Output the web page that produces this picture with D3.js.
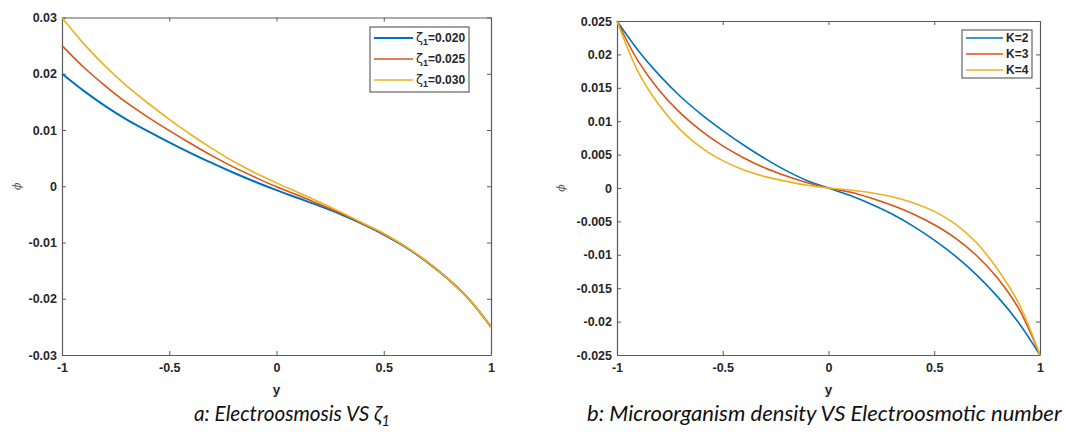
<!DOCTYPE html>
<html>
<head>
<meta charset="utf-8">
<script src="https://cdn.jsdelivr.net/npm/d3@7"></script>
<style>
  html, body { margin: 0; padding: 0; background: #fff; }
  svg { display: block; }
</style>
</head>
<body>
<svg id="chart" width="1066" height="434"></svg>
<script>
// ---------- Data ----------
const yGrid = [-1, -0.9, -0.8, -0.7, -0.6, -0.5, -0.4, -0.3, -0.2, -0.1, 0,
               0.1, 0.2, 0.3, 0.4, 0.5, 0.6, 0.7, 0.8, 0.9, 1];

// Panel a: Electroosmosis vs zeta1
const zetaLabels = ["0.020", "0.025", "0.030"];
const phiZeta020 = [0.0200, 0.0170, 0.0143, 0.0119, 0.0098, 0.0078, 0.0059, 0.0041, 0.0024, 0.0008, -0.0007,
                    -0.0021, -0.0035, -0.0050, -0.0067, -0.0086, -0.0108, -0.0134, -0.0165, -0.0202, -0.0250];
const phiZeta025 = [0.0250, 0.0212, 0.0179, 0.0149, 0.0123, 0.0099, 0.0076, 0.0054, 0.0034, 0.0016, -0.0001,
                    -0.0016, -0.0032, -0.0048, -0.0066, -0.0085, -0.0107, -0.0134, -0.0165, -0.0202, -0.0250];
const phiZeta030 = [0.0300, 0.0254, 0.0214, 0.0179, 0.0148, 0.0119, 0.0092, 0.0067, 0.0044, 0.0024, 0.0006,
                    -0.0011, -0.0028, -0.0046, -0.0065, -0.0084, -0.0107, -0.0133, -0.0165, -0.0202, -0.0250];

// Panel b: Microorganism density vs Electroosmotic number
const kLabels = ["K=2", "K=3", "K=4"];
const phiK2 = [0.0250, 0.0206, 0.0169, 0.0137, 0.0110, 0.0086, 0.0064, 0.0044, 0.0026, 0.0011, 0.0000,
               -0.0011, -0.0024, -0.0039, -0.0057, -0.0078, -0.0102, -0.0130, -0.0163, -0.0202, -0.0250];
const phiK3 = [0.0250, 0.0190, 0.0146, 0.0112, 0.0085, 0.0063, 0.0045, 0.0030, 0.0018, 0.0008, 0.0000,
               -0.0006, -0.0015, -0.0026, -0.0039, -0.0055, -0.0075, -0.0101, -0.0135, -0.0181, -0.0250];
const phiK4 = [0.0250, 0.0174, 0.0124, 0.0087, 0.0060, 0.0041, 0.0027, 0.0017, 0.0010, 0.0004, 0.0000,
               -0.0003, -0.0007, -0.0013, -0.0022, -0.0035, -0.0054, -0.0082, -0.0122, -0.0173, -0.0250];

const xTicks = [-1, -0.5, 0, 0.5, 1];
const xTickLabels = ["-1", "-0.5", "0", "0.5", "1"];
const yTicksA = [-0.03, -0.02, -0.01, 0, 0.01, 0.02, 0.03];
const yTickLabelsA = ["-0.03", "-0.02", "-0.01", "0", "0.01", "0.02", "0.03"];
const yTicksB = [-0.025, -0.02, -0.015, -0.01, -0.005, 0, 0.005, 0.01, 0.015, 0.02, 0.025];
const yTickLabelsB = ["-0.025", "-0.02", "-0.015", "-0.01", "-0.005", "0", "0.005", "0.01", "0.015", "0.02", "0.025"];

const colors = ["#0072BD", "#D95319", "#EDB120"];

const captionA = "a: Electroosmosis VS ζ";
const captionB = "b: Microorganism density VS Electroosmotic number";

// ---------- Drawing ----------
const svg = d3.select("#chart");
const tickFont = "'Liberation Sans', Arial, sans-serif";

function panel(opts) {
  const x = d3.scaleLinear().domain([-1, 1]).range([opts.left, opts.right]);
  const y = d3.scaleLinear().domain(opts.yDomain).range([opts.bottom, opts.top]);
  const g = svg.append("g");

  const axisColor = "#5a5a5a";
  const fmtX = d => xTickLabels[xTicks.indexOf(d)];
  const fmtY = d => opts.yLabels[opts.yTicks.indexOf(d)];

  const gb = g.append("g").attr("transform", `translate(0,${opts.bottom})`)
    .call(d3.axisBottom(x).tickValues(xTicks).tickFormat(fmtX).tickSizeInner(-4).tickSizeOuter(0).tickPadding(8));
  const gt = g.append("g").attr("transform", `translate(0,${opts.top})`)
    .call(d3.axisTop(x).tickValues(xTicks).tickFormat("").tickSizeInner(-4).tickSizeOuter(0));
  const gl = g.append("g").attr("transform", `translate(${opts.left},0)`)
    .call(d3.axisLeft(y).tickValues(opts.yTicks).tickFormat(fmtY).tickSizeInner(-4).tickSizeOuter(0).tickPadding(5));
  const gr = g.append("g").attr("transform", `translate(${opts.right},0)`)
    .call(d3.axisRight(y).tickValues(opts.yTicks).tickFormat("").tickSizeInner(-4).tickSizeOuter(0));

  [gb, gt, gl, gr].forEach(a => {
    a.select(".domain").attr("stroke", axisColor).attr("stroke-width", 1.2);
    a.selectAll(".tick line").attr("stroke", axisColor).attr("stroke-width", 1);
    a.selectAll(".tick text").attr("fill", "#262626")
      .style("font-family", tickFont).style("font-weight", "bold").style("font-size", "12.5px");
  });

  const line = d3.line().x(d => x(d[0])).y(d => y(d[1])).curve(d3.curveCatmullRom.alpha(0.5));
  opts.series.forEach((s, i) => {
    g.append("path")
      .datum(yGrid.map((v, j) => [v, s[j]]))
      .attr("fill", "none")
      .attr("stroke", colors[i])
      .attr("stroke-width", opts.widths[i])
      .attr("d", line);
  });

  g.append("text")
    .attr("x", (opts.left + opts.right) / 2).attr("y", opts.bottom + 39)
    .attr("text-anchor", "middle")
    .style("font-family", tickFont).style("font-weight", "bold").style("font-size", "13.5px")
    .attr("fill", "#262626").text("y");
  g.append("text")
    .attr("transform", `translate(${opts.phiX},${(opts.top + opts.bottom) / 2}) rotate(-90)`)
    .attr("text-anchor", "middle").attr("dy", "0.35em")
    .style("font-family", "'DejaVu Serif', serif").style("font-style", "italic").style("font-size", "11px")
    .attr("fill", "#555").text("ϕ");

  const L = opts.legend;
  g.append("rect").attr("x", L.x).attr("y", L.y).attr("width", L.w).attr("height", L.h)
    .attr("fill", "#fff").attr("stroke", "#444").attr("stroke-width", 1);
  opts.legendLabels.forEach((lab, i) => {
    const yy = L.y + L.rowStart + i * L.rowGap;
    g.append("line").attr("x1", L.x + 4).attr("x2", L.x + L.lineLen + 4).attr("y1", yy).attr("y2", yy)
      .attr("stroke", colors[i]).attr("stroke-width", opts.widths[i]);
    const t = g.append("text").attr("x", L.x + L.lineLen + 7).attr("y", yy).attr("dy", "0.36em")
      .style("font-family", tickFont).style("font-weight", "bold").style("font-size", "12px")
      .attr("fill", "#262626");
    if (opts.zeta) {
      t.append("tspan").style("font-weight", "normal").style("font-family", "'DejaVu Sans', sans-serif")
        .style("font-size", "13px").text("ζ");
      t.append("tspan").attr("dy", "3").style("font-size", "9px").text("1");
      t.append("tspan").attr("dy", "-3").text("=" + lab);
    } else {
      t.text(lab);
    }
  });

  return { x, y };
}

panel({
  left: 62, right: 491, top: 17.5, bottom: 355,
  yDomain: [-0.03, 0.03], yTicks: yTicksA, yLabels: yTickLabelsA,
  series: [phiZeta020, phiZeta025, phiZeta030], widths: [2, 1.6, 1.6],
  phiX: 17,
  legend: { x: 370, y: 27, w: 99, h: 65, rowStart: 11, rowGap: 21, lineLen: 39 },
  legendLabels: zetaLabels, zeta: true
});

panel({
  left: 617, right: 1040, top: 21, bottom: 355,
  yDomain: [-0.025, 0.025], yTicks: yTicksB, yLabels: yTickLabelsB,
  series: [phiK2, phiK3, phiK4], widths: [1.6, 1.6, 1.6],
  phiX: 561,
  legend: { x: 962, y: 30, w: 70, h: 48, rowStart: 8, rowGap: 16, lineLen: 37 },
  legendLabels: kLabels, zeta: false
});

const capFont = "Lato, 'Open Sans', sans-serif";
const capA = svg.append("text").attr("x", 194).attr("y", 421)
  .style("font-family", capFont).style("font-style", "italic").style("font-size", "20px")
  .attr("fill", "#111");
capA.append("tspan").text(captionA);
capA.append("tspan").attr("dy", 5).style("font-size", "14px").text("1");

const capB = svg.append("text").attr("x", 587).attr("y", 421)
  .style("font-family", capFont).style("font-style", "italic").style("font-size", "20px")
  .attr("fill", "#111").text(captionB);

function fit(sel, target) {
  const w = sel.node().getBBox().width;
  const fs = parseFloat(sel.style("font-size"));
  sel.style("font-size", (fs * target / w) + "px");
}
fit(capB, 476);
{
  const w = capA.node().getBBox().width;
  const k = 196 / w;
  capA.style("font-size", (20 * k) + "px");
  capA.select("tspan:last-child").style("font-size", (14 * k) + "px");
}
</script>
</body>
</html>
